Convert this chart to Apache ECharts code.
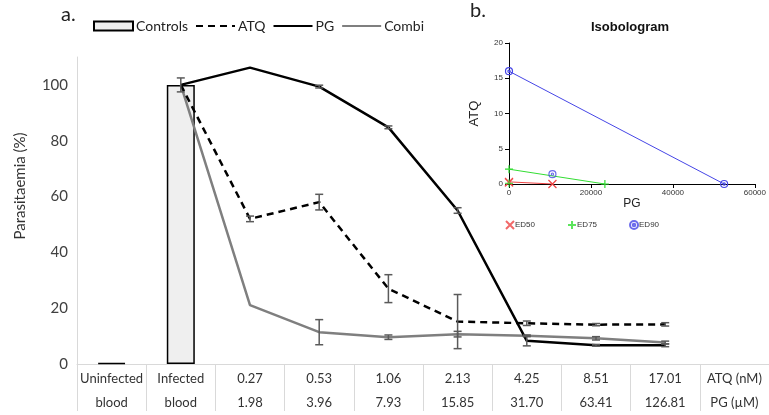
<!DOCTYPE html>
<html>
<head>
<meta charset="utf-8">
<script src="https://cdn.jsdelivr.net/npm/echarts@6/dist/echarts.min.js"></script>
<style>
  html, body { margin: 0; padding: 0; background: #fff; }
  #chart { width: 769px; height: 415px; }
</style>
</head>
<body>
<div id="chart"></div>
<script>
// table rows under the x axis
const atqRow = ['Uninfected', 'Infected', '0.27', '0.53', '1.06', '2.13', '4.25', '8.51', '17.01', 'ATQ (nM)'];
const pgRow = ['blood', 'blood', '1.98', '3.96', '7.93', '15.85', '31.70', '63.41', '126.81', 'PG (µM)'];

// parasitaemia (%) per column, null where nothing is drawn
const controls = [0.4, 100, null, null, null, null, null, null, null, null];
const controlsErr = [null, 2.5, null, null, null, null, null, null, null, null];
const atq = [null, 100, 52, 58, 27, 15.2, 14.6, 14.1, 14.2, null];
const atqErr = [null, null, 1, 2.8, 5, 9.7, 0.8, 0.4, 0.6, null];
const pg = [null, 100, 106.2, 99.4, 84.8, 55, 8.3, 6.7, 6.7, null];
const pgErr = [null, null, null, 0.5, 0.5, 1, 1.8, 0.3, 0.5, null];
const combi = [null, 100, 21.1, 11.4, 9.6, 10.7, 10.1, 9.2, 7.7, null];
const combiErr = [null, null, null, 4.5, 0.8, 1, 0.3, 0.6, 0.5, null];

// isobologram (PG, ATQ)
const ed50Line = [[0, 0.3], [10600, 0]];
const ed75Line = [[0, 2.1], [23400, 0]];
const ed90Line = [[0, 16], [52500, 0]];
const ed50Combo = [[0, 0.2]];
const ed75Combo = [[0, 0.1]];
const ed90Combo = [[10600, 1.4]];

const categories = atqRow.map((a, i) => a + '\n' + pgRow[i]);
const mainFont = 'Lato';
const insetFont = 'Liberation Sans';

function errData(vals, errs) {
  const out = [];
  vals.forEach((v, i) => {
    if (v != null && errs[i] != null) out.push([i, v - errs[i], v + errs[i]]);
  });
  return out;
}

function errRender(params, api) {
  const x = api.value(0);
  const lo = api.coord([x, api.value(1)]);
  const hi = api.coord([x, api.value(2)]);
  const w = 4;
  const st = { stroke: '#5a5a5a', lineWidth: 1.5 };
  return {
    type: 'group',
    children: [
      { type: 'line', shape: { x1: lo[0], y1: lo[1], x2: hi[0], y2: hi[1] }, style: st },
      { type: 'line', shape: { x1: lo[0] - w, y1: lo[1], x2: lo[0] + w, y2: lo[1] }, style: st },
      { type: 'line', shape: { x1: hi[0] - w, y1: hi[1], x2: hi[0] + w, y2: hi[1] }, style: st }
    ]
  };
}

function errSeries(name, vals, errs) {
  return {
    name: name,
    type: 'custom',
    xAxisIndex: 0,
    yAxisIndex: 0,
    renderItem: errRender,
    encode: { x: 0, y: [1, 2] },
    data: errData(vals, errs),
    z: 5
  };
}

const xPath = 'path://M0,0L10,10M10,0L0,10';
const plusPath = 'path://M5,0L5,10M0,5L10,5';
const ringPath = 'path://M10,5A5,5,0,1,1,0,5A5,5,0,1,1,10,5ZM6.6,5A1.6,1.6,0,1,1,3.4,5A1.6,1.6,0,1,1,6.6,5Z';

function isoLine(name, data, color, symbol, size) {
  return {
    name: name,
    type: 'line',
    xAxisIndex: 1,
    yAxisIndex: 1,
    data: data,
    symbol: symbol,
    symbolSize: size,
    showSymbol: true,
    lineStyle: { color: color, width: 1 },
    itemStyle: { color: 'rgba(0,0,0,0)', borderColor: color, borderWidth: 1.2 },
    z: 3
  };
}

function isoPoint(name, data, color, symbol, size) {
  return {
    name: name,
    type: 'scatter',
    xAxisIndex: 1,
    yAxisIndex: 1,
    data: data,
    symbol: symbol,
    symbolSize: size,
    itemStyle: { color: 'rgba(0,0,0,0)', borderColor: color, borderWidth: 1.2 },
    z: 4
  };
}

const noDot = { color: 'rgba(0,0,0,0)', borderWidth: 0 };

const chart = echarts.init(document.getElementById('chart'));
chart.setOption({
  animation: false,
  title: {
    text: 'Isobologram',
    left: 591,
    top: 21,
    padding: 0,
    textStyle: { fontFamily: insetFont, fontSize: 13, fontWeight: 'bold', color: '#111' }
  },
  legend: [
    {
      left: 93,
      top: 19,
      padding: 0,
      itemWidth: 39,
      itemHeight: 9,
      itemGap: 7,
      textStyle: { fontFamily: mainFont, fontSize: 14, color: '#222', padding: [0, 0, 0, -2] },
      data: [
        { name: 'Controls', icon: 'rect' },
        { name: 'ATQ', itemStyle: noDot },
        { name: 'PG', itemStyle: noDot },
        { name: 'Combi', itemStyle: noDot }
      ]
    },
    {
      left: 505,
      top: 220,
      padding: 0,
      itemWidth: 8,
      itemHeight: 8,
      itemGap: 32,
      textStyle: { fontFamily: insetFont, fontSize: 8, color: '#333', padding: [0, 0, 0, -4] },
      data: ['ED50', 'ED75', 'ED90']
    }
  ],
  graphic: [
    { type: 'text', left: 61, top: 5, style: { text: 'a.', font: '20px ' + mainFont, fill: '#222' } },
    { type: 'text', left: 470, top: 1, style: { text: 'b.', font: '20px ' + mainFont, fill: '#222' } },
    {
      type: 'text', x: 20, y: 186, rotation: Math.PI / 2,
      style: { text: 'Parasitaemia (%)', font: '15px ' + mainFont, fill: '#333', align: 'center', verticalAlign: 'middle' }
    }
  ],
  grid: [
    { left: 77, top: 57, width: 705, height: 311 },
    { left: 509, top: 43, width: 251, height: 141 }
  ],
  xAxis: [
    {
      type: 'category',
      gridIndex: 0,
      data: categories,
      axisLine: { lineStyle: { color: '#d9d9d9', width: 1 } },
      axisTick: { show: true, interval: 0, length: 47, lineStyle: { color: '#d9d9d9' } },
      axisLabel: { interval: 0, margin: 3, fontFamily: mainFont, fontSize: 13, lineHeight: 24, color: '#333' }
    },
    {
      type: 'value',
      gridIndex: 1,
      min: 0,
      max: 60000,
      interval: 20000,
      name: 'PG',
      nameLocation: 'middle',
      nameGap: 14,
      nameTextStyle: { fontFamily: insetFont, fontSize: 12, color: '#222' },
      splitLine: { show: false },
      axisLine: { lineStyle: { color: '#000', width: 1 } },
      axisTick: { length: 4, lineStyle: { color: '#000' } },
      axisLabel: { margin: 5, fontFamily: insetFont, fontSize: 8, color: '#333', formatter: v => String(v) }
    }
  ],
  yAxis: [
    {
      type: 'value',
      gridIndex: 0,
      min: 0,
      max: 110,
      interval: 20,
      splitLine: { show: false },
      axisLine: { show: true, lineStyle: { color: '#d9d9d9' } },
      axisTick: { show: false },
      axisLabel: {
        margin: 9, fontFamily: mainFont, fontSize: 15, color: '#404040',
        formatter: v => (v > 100 ? '' : v)
      }
    },
    {
      type: 'value',
      gridIndex: 1,
      min: 0,
      max: 20,
      interval: 5,
      name: 'ATQ',
      nameLocation: 'middle',
      nameGap: 28,
      nameTextStyle: { fontFamily: insetFont, fontSize: 13, color: '#222' },
      splitLine: { show: false },
      axisLine: { show: true, lineStyle: { color: '#000', width: 1 } },
      axisTick: { show: true, length: 4, lineStyle: { color: '#000' } },
      axisLabel: { margin: 6, fontFamily: insetFont, fontSize: 8, color: '#333' }
    }
  ],
  series: [
    {
      name: 'Controls',
      type: 'bar',
      xAxisIndex: 0,
      yAxisIndex: 0,
      data: controls,
      barWidth: 28,
      color: '#efefef',
      itemStyle: { color: '#efefef', borderColor: '#000', borderWidth: 1.5 },
      z: 1
    },
    {
      name: 'ATQ',
      type: 'line',
      xAxisIndex: 0,
      yAxisIndex: 0,
      data: atq,
      symbol: 'none',
      color: '#000',
      lineStyle: { color: '#000', width: 2.5, type: [7, 5] },
      z: 3
    },
    {
      name: 'PG',
      type: 'line',
      xAxisIndex: 0,
      yAxisIndex: 0,
      data: pg,
      symbol: 'none',
      color: '#000',
      lineStyle: { color: '#000', width: 2.5 },
      z: 3
    },
    {
      name: 'Combi',
      type: 'line',
      xAxisIndex: 0,
      yAxisIndex: 0,
      data: combi,
      symbol: 'none',
      color: '#7f7f7f',
      lineStyle: { color: '#7f7f7f', width: 2.5 },
      z: 2
    },
    errSeries('Controls err', controls, controlsErr),
    errSeries('ATQ err', atq, atqErr),
    errSeries('PG err', pg, pgErr),
    errSeries('Combi err', combi, combiErr),
    isoLine('ED50 line', ed50Line, '#ee4444', xPath, 8),
    isoLine('ED75 line', ed75Line, '#33dd33', plusPath, 8),
    isoLine('ED90 line', ed90Line, '#4646e6', ringPath, 7),
    isoPoint('ED50', ed50Combo, '#ee4444', xPath, 8),
    isoPoint('ED75', ed75Combo, '#33dd33', plusPath, 8),
    isoPoint('ED90', ed90Combo, '#4646e6', ringPath, 7)
  ]
});
</script>
</body>
</html>
